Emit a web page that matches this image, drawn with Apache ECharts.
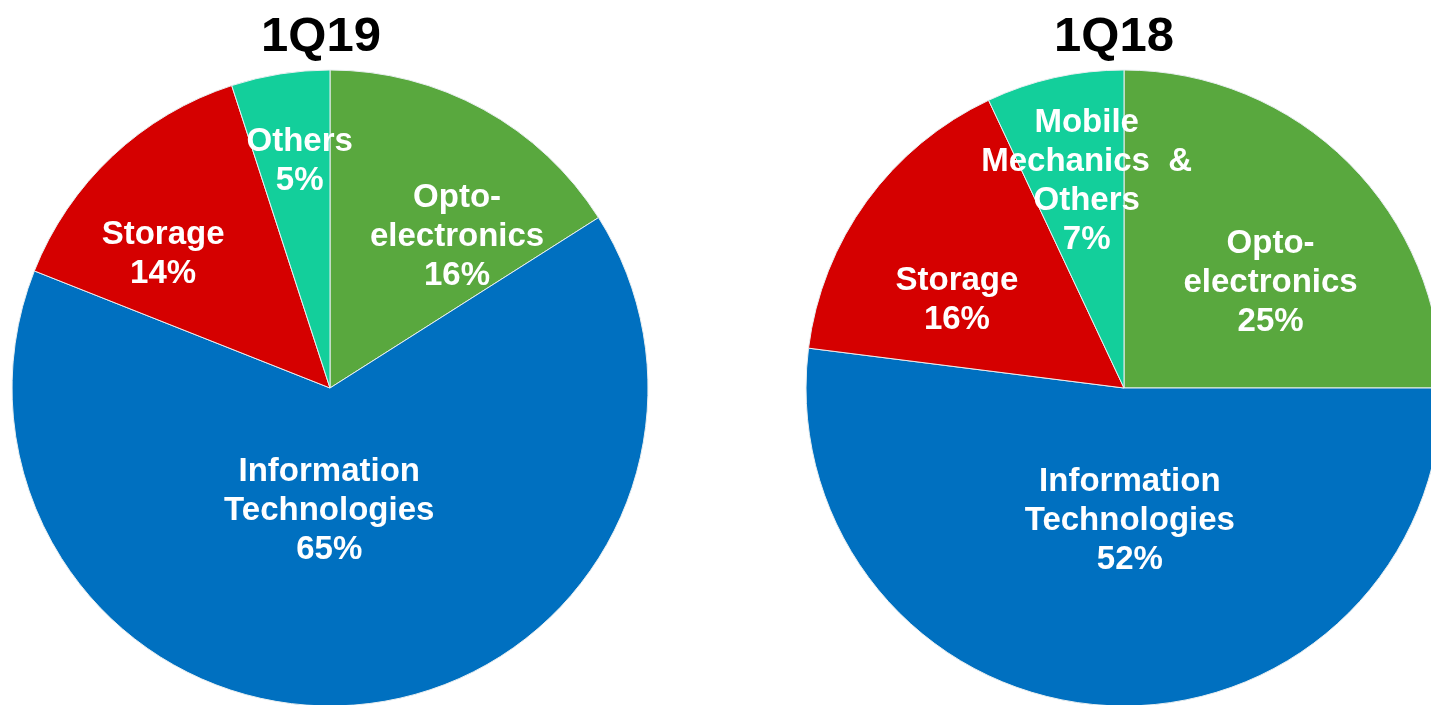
<!DOCTYPE html>
<html>
<head>
<meta charset="utf-8">
<script src="https://cdn.jsdelivr.net/npm/echarts@6/dist/echarts.min.js"></script>
<style>
  html, body { margin: 0; padding: 0; background: #fff; }
  #chart { width: 1431px; height: 705px; }
</style>
</head>
<body>
<div id="chart"></div>
<script>
// segment names, clockwise from 12 o'clock
const namesQ19 = ['Opto-\nelectronics', 'Information\nTechnologies', 'Storage', 'Others']
const valuesQ19 = [16, 65, 14, 5]
const namesQ18 = ['Opto-\nelectronics', 'Information\nTechnologies', 'Storage', 'Mobile\nMechanics  &\nOthers']
const valuesQ18 = [25, 52, 16, 7]
const titles = ['1Q19', '1Q18']
const colors = ['#59A83E', '#0070C0', '#D50000', '#13CF9B']

const FONT = "'Liberation Sans', Arial, sans-serif"

// nudges for the inside labels (px), per pie
const labelShift = [
  [[49, -9], [-16, -38], [-56, -16], [-5, -67]],
  [[32, 9], [16, -29], [-36, 8], [-2, -48]]
]

const chart = echarts.init(document.getElementById('chart'))

const makePie = (idx, names, values, center) => ({
  type: 'pie',
  center: center,
  radius: 318,
  startAngle: 90,
  clockwise: true,
  avoidLabelOverlap: false,
  silent: true,
  itemStyle: {
    borderColor: '#e8eef0',
    borderWidth: 1
  },
  label: {
    show: true,
    position: 'inside',
    formatter: '{b}\n{c}%',
    color: '#fff',
    fontFamily: FONT,
    fontWeight: 'bold',
    fontSize: 33,
    lineHeight: 39,
    align: 'center'
  },
  labelLine: { show: false },
  labelLayout: function (params) {
    const s = labelShift[idx][params.dataIndex]
    return { dx: s[0], dy: s[1] }
  },
  data: values.map((v, i) => ({
    name: names[i],
    value: v,
    itemStyle: { color: colors[i] }
  }))
})

const titleStyle = { fontFamily: FONT, fontSize: 49, fontWeight: 'bold', color: '#000' }

const option = {
  animation: false,
  title: [
    { text: titles[0], left: 316, top: 8, textAlign: 'center', textStyle: titleStyle },
    { text: titles[1], left: 1109, top: 8, textAlign: 'center', textStyle: titleStyle }
  ],
  series: [
    makePie(0, namesQ19, valuesQ19, [330, 388]),
    makePie(1, namesQ18, valuesQ18, [1124, 388])
  ]
}

chart.setOption(option)
</script>
</body>
</html>
